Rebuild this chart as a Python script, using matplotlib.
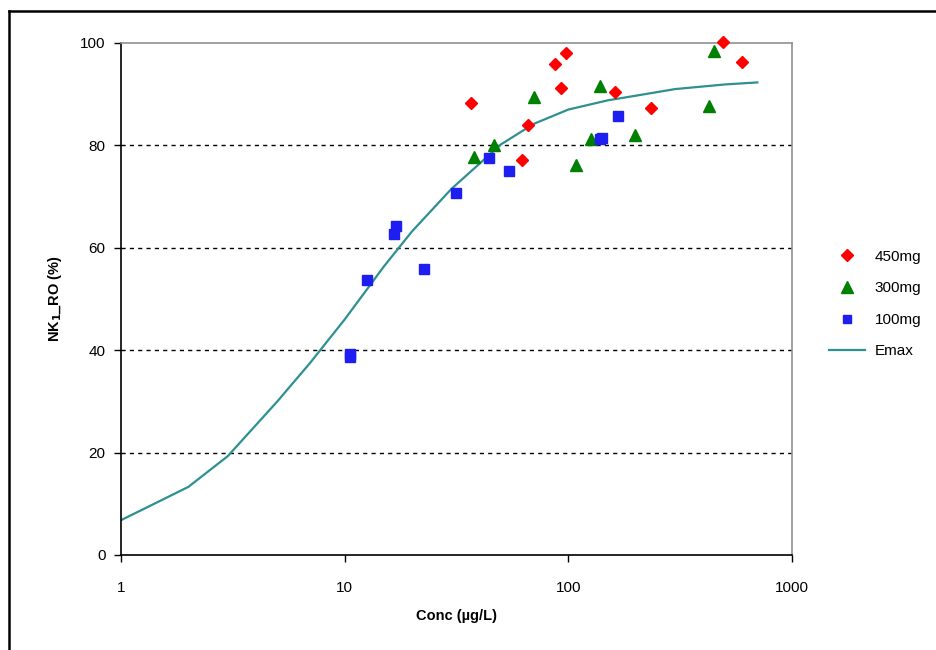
import matplotlib
matplotlib.use("Agg")
import matplotlib.pyplot as plt
from matplotlib.lines import Line2D

plt.rcParams['font.family'] = ['Liberation Sans', 'DejaVu Sans']

# 450mg
conc_450 = [36.7, 62, 66, 87, 92.5, 97.3, 161, 235, 493, 599]
ro_450 = [88.3, 77.1, 84.0, 95.9, 91.2, 98.0, 90.4, 87.3, 100.2, 96.3]
# 300mg
conc_300 = [37.9, 46.5, 70.1, 108, 126, 138, 198, 427, 450]
ro_300 = [77.7, 80.0, 89.5, 76.2, 81.2, 91.6, 82.0, 87.7, 98.4]
# 100mg
conc_100 = [10.6, 10.6, 12.6, 16.7, 17.0, 22.7, 31.5, 44.2, 54.2, 139, 141, 166]
ro_100 = [38.6, 39.3, 53.7, 62.7, 64.3, 55.9, 70.7, 77.5, 75.0, 81.2, 81.5, 85.7]
# Emax model curve
conc_emax = [1, 2, 3, 5, 7, 10, 15, 20, 30, 50, 70, 100, 150, 200, 300, 500, 700]
ro_emax = [6.8, 13.3, 19.3, 30.0, 37.5, 46.0, 56.4, 63.2, 71.5, 80.2, 84.2, 87.0,
           88.8, 89.7, 91.0, 91.9, 92.3]

fig = plt.figure(figsize=(9.36, 6.5), dpi=100)
ax = fig.add_axes([121/936, 95/650, 671/936, 512/650])

ax.plot(conc_emax, ro_emax, color='#2E9090', lw=1.6, label='Emax', zorder=2)
ax.plot(conc_450, ro_450, ls='none', marker='D', ms=6, color='#FF0000',
        mec='#FF0000', label='450mg', zorder=3, clip_on=False)
ax.plot(conc_300, ro_300, ls='none', marker='^', ms=8, color='#008000',
        mec='#008000', label='300mg', zorder=3, clip_on=False)
ax.plot(conc_100, ro_100, ls='none', marker='s', ms=6.5, color='#1E1EF0',
        mec='#1E1EF0', label='100mg', zorder=3, clip_on=False)

ax.set_xscale('log')
ax.set_xlim(1, 1000)
ax.set_ylim(0, 100)
ax.set_xticks([1, 10, 100, 1000])
ax.set_xticklabels(['1', '10', '100', '1000'])
ax.minorticks_off()
ax.set_yticks([0, 20, 40, 60, 80, 100])

for yv in [20, 40, 60, 80]:
    ax.axhline(yv, color='black', ls=(0, (3, 3)), lw=1, zorder=1)

for side in ['top', 'right']:
    ax.spines[side].set_color('#909090')
    ax.spines[side].set_linewidth(1.2)
for side in ['left', 'bottom']:
    ax.spines[side].set_color('black')
    ax.spines[side].set_linewidth(1.2)

ax.tick_params(direction='out', length=5, width=1, labelsize=11, pad=6)
ax.tick_params(axis='x', pad=14)

ax.set_xlabel('Conc (µg/L)', fontsize=10.5, fontweight='bold', labelpad=10)
ax.set_ylabel('NK$_{\\mathbf{1}}$_RO (%)', fontsize=10.5, fontweight='bold', labelpad=12)

handles = [
    Line2D([], [], ls='none', marker='D', ms=6, color='#FF0000'),
    Line2D([], [], ls='none', marker='^', ms=8, color='#008000'),
    Line2D([], [], ls='none', marker='s', ms=6, color='#1E1EF0'),
    Line2D([], [], color='#2E9090', lw=1.6),
]
fig.legend(handles, ['450mg', '300mg', '100mg', 'Emax'], loc='upper left',
           bbox_to_anchor=(815/936, 1 - 236/650), frameon=False, fontsize=11,
           handlelength=2.4, labelspacing=1.15, handletextpad=0.6)

# outer chart frame
fig.add_artist(Line2D([9/936, 9/936], [0, 1 - 11/650], color='black', lw=1.8,
                      transform=fig.transFigure))
fig.add_artist(Line2D([9/936, 1], [1 - 11/650, 1 - 11/650], color='black', lw=1.8,
                      transform=fig.transFigure))

fig.savefig('out.png', dpi=100)
